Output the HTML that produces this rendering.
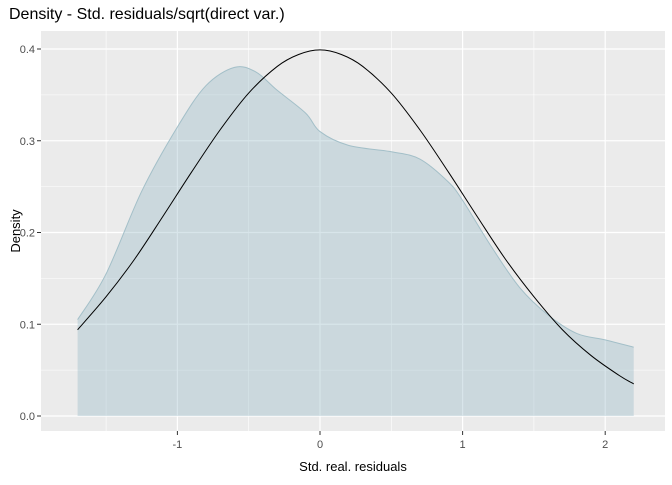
<!DOCTYPE html>
<html><head><meta charset="utf-8"><style>
body{margin:0;background:#fff;}
svg text{font-family:"Liberation Sans",sans-serif;}
</style></head><body>
<svg id="chart" width="672" height="480" xmlns="http://www.w3.org/2000/svg">
<text x="9" y="19" font-size="16" fill="#000">Density - Std. residuals/sqrt(direct var.)</text>
<rect x="41" y="31" width="624" height="400" fill="#ebebeb"/>
<g id="grid"></g>
<g id="marks"></g>
<g id="axes"></g>
<text x="353" y="471" font-size="13" text-anchor="middle" fill="#000">Std. real. residuals</text>
<text transform="translate(20,231) rotate(-90)" font-size="13" text-anchor="middle" fill="#000">Density</text>
</svg>
<script>
const densX=[-1.7,-1.5,-1.25,-1.0,-0.8,-0.6,-0.45,-0.3,-0.1,0,0.2,0.5,0.7,0.9,1.0,1.2,1.4,1.6,1.8,2.0,2.2];
const densY=[0.105,0.155,0.245,0.315,0.36,0.38,0.375,0.355,0.33,0.31,0.295,0.288,0.28,0.255,0.235,0.185,0.14,0.11,0.09,0.083,0.075];
const normX=[-1.7,-1.5,-1.3,-1.1,-0.9,-0.7,-0.5,-0.3,-0.15,0,0.15,0.3,0.5,0.7,0.9,1.1,1.3,1.5,1.7,1.9,2.1,2.2];
const normY=[0.094,0.130,0.171,0.218,0.266,0.312,0.352,0.381,0.394,0.399,0.394,0.381,0.352,0.312,0.266,0.218,0.171,0.130,0.094,0.066,0.044,0.035];
const xTicks=[-1,0,1,2];
const yTicks=[0,0.1,0.2,0.3,0.4];
const yTickLabels=["0.0","0.1","0.2","0.3","0.4"];
const NS="http://www.w3.org/2000/svg";
const sx=v=>320+v*142.6;
const sy=v=>416-v*917.5;
function mk(tag,attrs,parent){const e=document.createElementNS(NS,tag);for(const k in attrs)e.setAttribute(k,attrs[k]);parent.appendChild(e);return e;}
function smooth(xs,ys){const p=xs.map((x,i)=>[sx(x),sy(ys[i])]);let d="M"+p[0][0]+","+p[0][1];
for(let i=0;i<p.length-1;i++){const p0=p[i-1]||p[i],p1=p[i],p2=p[i+1],p3=p[i+2]||p2;
d+=" C"+(p1[0]+(p2[0]-p0[0])/6)+","+(p1[1]+(p2[1]-p0[1])/6)+" "+(p2[0]-(p3[0]-p1[0])/6)+","+(p2[1]-(p3[1]-p1[1])/6)+" "+p2[0]+","+p2[1];}return d;}
const grid=document.getElementById('grid'),marks=document.getElementById('marks'),axes=document.getElementById('axes');
[-1.5,-0.5,0.5,1.5].forEach(v=>{const l=mk('line',{x1:sx(v),x2:sx(v),y1:31,y2:431,stroke:'#fff','stroke-width':0.6},grid);

});
[0.05,0.15,0.25,0.35].forEach(v=>{const l=mk('line',{x1:41,x2:665,y1:sy(v),y2:sy(v),stroke:'#fff','stroke-width':0.6},grid);

});
xTicks.forEach(v=>{const l=mk('line',{x1:sx(v),x2:sx(v),y1:31,y2:431,stroke:'#fff','stroke-width':1.2},grid);


const t=mk('line',{x1:sx(v),x2:sx(v),y1:431,y2:435,stroke:'#333'},axes);


const tx=mk('text',{x:sx(v),y:448,'font-size':11,'text-anchor':'middle',fill:'#4d4d4d'},axes);tx.textContent=v;

});
yTicks.forEach((v,i)=>{const l=mk('line',{x1:41,x2:665,y1:sy(v),y2:sy(v),stroke:'#fff','stroke-width':1.2},grid);


const t=mk('line',{x1:37,x2:41,y1:sy(v),y2:sy(v),stroke:'#333'},axes);


const tx=mk('text',{x:35,y:sy(v)+4,'font-size':11,'text-anchor':'end',fill:'#4d4d4d'},axes);tx.textContent=yTickLabels[i];

});
const dpath=smooth(densX,densY);
const area=mk('path',{d:dpath+" L"+sx(densX[densX.length-1])+","+sy(0)+" L"+sx(densX[0])+","+sy(0)+" Z",fill:'#8fb4c2','fill-opacity':0.35,stroke:'none'},marks);


const dl=mk('path',{d:dpath,fill:'none',stroke:'#a3bfc8','stroke-width':1},marks);


const nl=mk('path',{d:smooth(normX,normY),fill:'none',stroke:'#000','stroke-width':1},marks);


</script>
</body></html>
